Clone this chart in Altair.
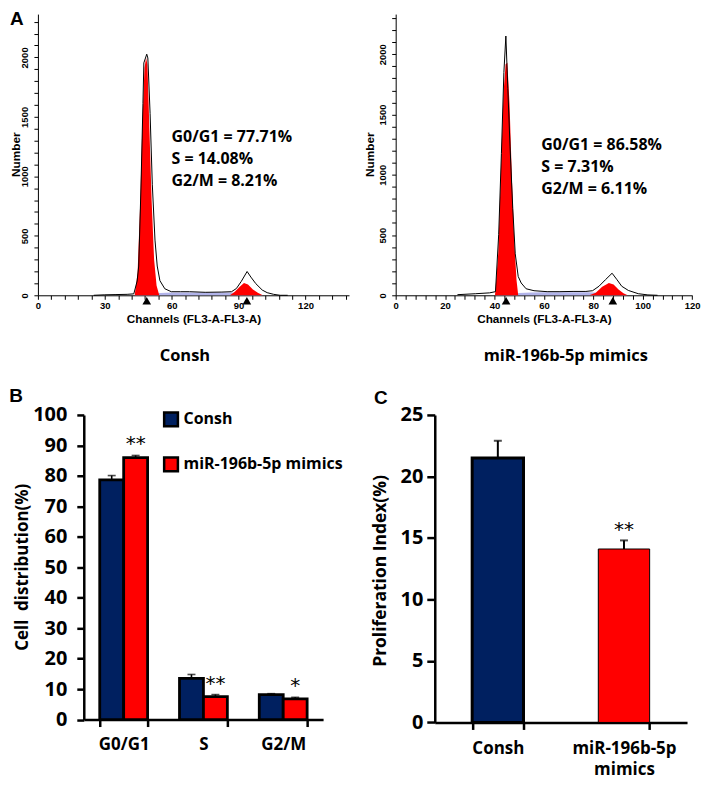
import altair as alt
import pandas as pd

# ---------------- Panel A : DNA histograms ----------------
# Consh histogram (channel, count)
L_line_ch = [25, 30, 35, 40, 43, 44.5, 45.2, 46.2, 47.1, 47.5, 48.8, 49.3, 50.3, 51.3, 52.5, 53.5, 54.7, 56.9, 59.8, 64,
             68, 75, 82.5, 86.8, 89, 91.2, 93.8, 95.5, 97.7, 100.6, 102.8, 105.7, 108.6, 112]
L_line_n = [0, 4, 6, 8, 12, 120, 246, 902, 1612, 1954, 2027, 1995, 1530, 929, 464, 246, 123, 55, 30, 30,
            30, 25, 27, 30, 57, 117, 200, 153, 98, 44, 22, 8, 0, 0]
L_g1_ch = [43.4, 44.7, 45.9, 46.9, 47.8, 48.5, 49.1, 50.0, 51.0, 52.1, 53.2, 54.4]
L_g1_n = [0, 191, 792, 1475, 1912, 1995, 1940, 1394, 792, 301, 82, 0]
L_g2_ch = [86.1, 88.3, 90.5, 92.4, 94.2, 96.4, 98.6, 100.8]
L_g2_n = [0, 30, 71, 104, 90, 49, 22, 0]
L_s_ch = [43, 46, 50, 55, 60, 70, 80, 86, 90, 94, 98, 101]
L_s_n = [0, 8, 14, 20, 24, 24, 24, 24, 20, 14, 6, 0]
L_marks = [48.8, 93.7]
L_text = ["G0/G1 = 77.71%", "S = 14.08%", "G2/M = 8.21%"]

# miR-196b-5p mimics histogram
R_line_ch = [25, 32.4, 38, 40.4, 41.7, 42.8, 43.8, 44.6, 45.4, 46.3, 47.4, 48.4, 49.6, 50.8, 52.8, 56, 61.3, 66.5,
             71.8, 77, 79.7, 82.3, 84.9, 87.6, 89.6, 91.5, 94.2, 98.2, 102.1, 106]
R_line_n = [5, 13, 20, 30, 505, 1177, 1849, 2151, 1715, 1231, 720, 344, 156, 102, 54, 38, 30, 30,
            32, 32, 38, 75, 129, 183, 129, 75, 40, 13, 3, 0]
R_g1_ch = [40.2, 41.5, 42.6, 43.6, 44.5, 45.2, 46.1, 47.1, 48.0, 48.9, 49.6]
R_g1_n = [0, 344, 1043, 1661, 1917, 1930, 1581, 935, 452, 129, 0]
R_g2_ch = [78.4, 81, 83.6, 86.3, 88.2, 90.2, 92.2, 93.9]
R_g2_n = [0, 21, 70, 102, 89, 48, 16, 0]
R_s_ch = [40, 43, 47, 50, 55, 60, 70, 78, 82, 86, 90, 94]
R_s_n = [0, 6, 12, 18, 24, 26, 26, 26, 22, 16, 8, 0]
R_marks = [44.7, 87.9]
R_text = ["G0/G1 = 86.58%", "S = 7.31%", "G2/M = 6.11%"]

# ---------------- Panel B : cell distribution ----------------
phases = ["G0/G1", "S", "G2/M"]
groups = ["Consh", "miR-196b-5p mimics"]
consh_vals = [78.7, 13.5, 8.2]
consh_err = [1.4, 1.3, 0.3]
mimic_vals = [86.0, 7.5, 6.8]
mimic_err = [0.7, 0.7, 0.5]
mimic_stars = ["**", "**", "*"]

# ---------------- Panel C : proliferation index ----------------
pi_vals = [21.5, 14.1]
pi_err = [1.4, 0.7]
pi_stars = ["", "**"]

HF = "Liberation Sans"
BF = "Open Sans"
NAVY = "#002060"
RED = "#ff0000"


def label(text, x, y, font, size, angle=0, weight="bold"):
    return alt.Chart(pd.DataFrame({"t": [text]})).mark_text(
        align="center", baseline="middle", font=font, fontSize=size, fontWeight=weight, color="black",
        angle=angle).encode(x=alt.value(x), y=alt.value(y), text="t:N")


def hist(line_ch, line_n, g1_ch, g1_n, g2_ch, g2_n, s_ch, s_n, marks, lines, caption, letter,
         W, H, xmax, ymax, xstep, xlab, ytx, ann_x, ann_y, cap_x, let_x, let_y):
    xs = alt.Scale(domain=[0, xmax], nice=False, zero=False)
    ys = alt.Scale(domain=[0, ymax], nice=False)
    xaxis = alt.Axis(values=list(range(0, int(xmax) + 1, xstep)),
                     labelExpr=f"datum.value % {xlab} === 0 ? datum.label : ''",
                     title="Channels (FL3-A-FL3-A)", titleFont=HF, titleFontSize=11.8, titleFontWeight="bold",
                     titleColor="black", titleY=23.6, titleBaseline="middle",
                     labelFont=HF, labelFontSize=9.5, labelFontWeight="bold", labelColor="black",
                     labelPadding=1.5, labelFlush=False, labelOverlap=False, tickSize=4, tickColor="black",
                     tickWidth=1, domainColor="black", domainWidth=1, grid=False, format="d")
    yaxis = alt.Axis(values=list(range(0, 2301, 100)),
                     labelExpr="datum.value % 500 === 0 ? datum.label : ''",
                     title=None,
                     labelFont=HF, labelFontSize=9.5, labelFontWeight="bold", labelColor="black",
                     labelAngle=270, labelAlign="center", labelBaseline="bottom", labelPadding=4,
                     labelFlush=False, labelOverlap=False, tickSize=4, tickColor="black", tickWidth=1,
                     domainColor="black", domainWidth=1, grid=False, format="d")
    X = alt.X("ch:Q", scale=xs, axis=xaxis)
    Y = alt.Y("n:Q", scale=ys, axis=yaxis)
    s_area = alt.Chart(pd.DataFrame({"ch": s_ch, "n": s_n})).mark_area(
        color="#a9abe8", opacity=0.9).encode(x=X, y=Y)
    g1 = alt.Chart(pd.DataFrame({"ch": g1_ch, "n": g1_n})).mark_area(color=RED).encode(x=X, y=Y)
    g2 = alt.Chart(pd.DataFrame({"ch": g2_ch, "n": g2_n})).mark_area(color=RED).encode(x=X, y=Y)
    line = alt.Chart(pd.DataFrame({"ch": line_ch, "n": line_n})).mark_line(
        color="black", strokeWidth=1).encode(x=X, y=Y)
    tri = alt.Chart(pd.DataFrame({"ch": marks})).mark_point(
        shape="triangle-up", filled=True, color="black", size=75, opacity=1).encode(
        x=X, y=alt.value(H + 5.5))
    ann = alt.Chart(pd.DataFrame({"t": ["\n".join(lines)]})).mark_text(
        align="left", baseline="top", lineBreak="\n", lineHeight=22, font=BF, fontSize=16,
        fontWeight="bold", color="black").encode(x=alt.value(ann_x), y=alt.value(ann_y), text="t:N")
    cap = label(caption, cap_x, H + 61, BF, 16.5)
    ytitle = label("Number", ytx, H / 2, HF, 11.8, angle=270)
    layers = [s_area, g1, g2, line, tri, ann, cap, ytitle]
    if letter:
        layers.append(label(letter, let_x, let_y, HF, 19))
    return alt.layer(*layers).properties(width=W, height=H)


def spacer():
    return alt.Chart(pd.DataFrame({"a": [0]})).mark_rule(opacity=0).encode(
        x=alt.value(0), x2=alt.value(1), y=alt.value(0)).properties(width=1, height=1)


HL = 282
histL = hist(L_line_ch, L_line_n, L_g1_ch, L_g1_n, L_g2_ch, L_g2_n, L_s_ch, L_s_n, L_marks, L_text,
             "Consh", "A", 312, HL, 139.5, 2364, 6, 30, -21.5, 134, 115.5, 147.4, -21.2, 4.5)
histR = hist(R_line_ch, R_line_n, R_g1_ch, R_g1_n, R_g2_ch, R_g2_n, R_s_ch, R_s_n, R_marks, R_text,
             "miR-196b-5p mimics", None, 297.3, HL, 120, 2333, 4, 20, -25.5, 146, 123.7, 170.6, 0, 0)

top = alt.hconcat(spacer(), alt.hconcat(histL, histR, spacing=15.8), spacing=0)

# ---------------- Panel B ----------------
dfB = pd.DataFrame({
    "phase": phases * 2,
    "grp": [groups[0]] * 3 + [groups[1]] * 3,
    "val": consh_vals + mimic_vals,
    "err": consh_err + mimic_err,
    "star": [""] * 3 + mimic_stars,
})
WB, HB = 240, 305.5
baseB = alt.Chart(dfB).transform_calculate(upper="datum.val + datum.err")
XB = alt.X("phase:N", sort=phases, scale=alt.Scale(paddingInner=0.4, paddingOuter=0.2),
           axis=alt.Axis(title=None, labelAngle=0, tickBand="extent", labelFont=BF, labelFontSize=17,
                         labelFontWeight="bold", labelColor="black", labelPadding=10, tickSize=7,
                         tickWidth=2.5, tickColor="black", domainColor="black", domainWidth=2.5))
XOB = alt.XOffset("grp:N", sort=groups, scale=alt.Scale(paddingInner=0, paddingOuter=0))
scaleB = alt.Scale(domain=[0, 100], nice=False)
axisB = alt.Axis(values=list(range(0, 101, 10)), title=None,
                 labelFont=BF, labelFontSize=20, labelFontWeight="bold", labelColor="black",
                 labelPadding=10, labelOverlap=False, labelFlush=False, tickSize=7, tickWidth=2.5,
                 tickColor="black", domainColor="black", domainWidth=2.5, grid=False)
YB = alt.Y("val:Q", scale=scaleB, axis=axisB)
YBu = alt.Y("upper:Q", scale=scaleB, axis=axisB)
barsB = baseB.mark_bar(stroke="black", strokeWidth=2.8).encode(
    x=XB, xOffset=XOB, y=YB,
    color=alt.Color("grp:N", sort=groups, scale=alt.Scale(domain=groups, range=[NAVY, RED]),
                    legend=alt.Legend(orient="none", legendX=79, legendY=-4, title=None, symbolType="square",
                                      symbolSize=190, symbolStrokeColor="black", symbolStrokeWidth=2.5,
                                      symbolOpacity=1, labelFont=BF, labelFontSize=16, labelFontWeight="bold",
                                      labelColor="black", labelOffset=4, rowPadding=20, padding=0)))
ruleB = baseB.mark_rule(color="black", strokeWidth=1.6).encode(x=XB, xOffset=XOB, y=YB, y2="upper:Q")
capB = baseB.mark_tick(color="black", thickness=1.6, size=8).encode(x=XB, xOffset=XOB, y=YBu)
starB = baseB.mark_text(font="DejaVu Sans", fontSize=20, color="black", baseline="alphabetic",
                        dy=-5).encode(x=XB, xOffset=XOB, y=YBu, text="star:N")
titleB = label("Cell\u00a0 distribution(%)", -61, HB / 2, BF, 17, angle=270)
letB = label("B", -68, -18.5, HF, 19)
panelB = alt.layer(barsB, ruleB, capB, starB, titleB, letB).properties(width=WB, height=HB)

# ---------------- Panel C ----------------
dfC = pd.DataFrame({"g2": groups, "v": pi_vals, "e": pi_err, "s": pi_stars})
WC, HC = 253, 308.4
baseC = alt.Chart(dfC).transform_calculate(up="datum.v + datum.e")
XC = alt.X("g2:N", sort=groups, scale=alt.Scale(paddingInner=0.593, paddingOuter=0.2965),
           axis=alt.Axis(title=None, labelAngle=0, tickBand="extent", labelFont=BF, labelFontSize=17,
                         labelFontWeight="bold", labelColor="black", labelPadding=11, tickSize=7,
                         tickWidth=2.5, tickColor="black", domainColor="black", domainWidth=2.5,
                         labelLineHeight=21,
                         labelExpr="datum.value == 'miR-196b-5p mimics' ? ['miR-196b-5p', 'mimics'] : datum.label"))
scaleC = alt.Scale(domain=[0, 25], nice=False)
axisC = alt.Axis(values=list(range(0, 26, 5)), title=None,
                 labelFont=BF, labelFontSize=20, labelFontWeight="bold", labelColor="black",
                 labelPadding=4, labelOverlap=False, labelFlush=False, tickSize=8, tickWidth=2.5,
                 tickColor="black", domainColor="black", domainWidth=2.5, grid=False)
YC = alt.Y("v:Q", scale=scaleC, axis=axisC)
YCu = alt.Y("up:Q", scale=scaleC, axis=axisC)
barsC = baseC.mark_bar(stroke="black").encode(
    x=XC, y=YC,
    color=alt.Color("g2:N", sort=groups, scale=alt.Scale(domain=groups, range=[NAVY, RED]), legend=None),
    strokeWidth=alt.StrokeWidth("g2:N", sort=groups, scale=alt.Scale(domain=groups, range=[3, 1]), legend=None))
ruleC = baseC.mark_rule(color="black", strokeWidth=2).encode(x=XC, y=YC, y2="up:Q")
capC = baseC.mark_tick(color="black", thickness=2, size=8).encode(x=XC, y=YCu)
starC = baseC.mark_text(font="DejaVu Sans", fontSize=20, color="black", baseline="alphabetic",
                        dy=-4).encode(x=XC, y=YCu, text="s:N")
titleC = label("Proliferation Index(%)", -54, 156.5, BF, 17.5, angle=270)
letC = label("C", -54, -17, HF, 19)
panelC = alt.layer(barsC, ruleC, capC, starC, titleC, letC).properties(width=WC, height=HC)

inner_bottom = alt.hconcat(panelB, panelC, spacing=29).resolve_scale(
    color="independent", strokeWidth="independent").resolve_legend(color="independent", strokeWidth="independent")
bottom = alt.hconcat(spacer(), inner_bottom, spacing=0).resolve_scale(
    color="independent", strokeWidth="independent").resolve_legend(color="independent", strokeWidth="independent")

chart = alt.vconcat(top, bottom, spacing=22).resolve_scale(
    color="independent", strokeWidth="independent").resolve_legend(
    color="independent", strokeWidth="independent").properties(padding=0).configure_view(stroke=None)

chart.save("out.html", embed_options={"renderer": "svg", "actions": False})
